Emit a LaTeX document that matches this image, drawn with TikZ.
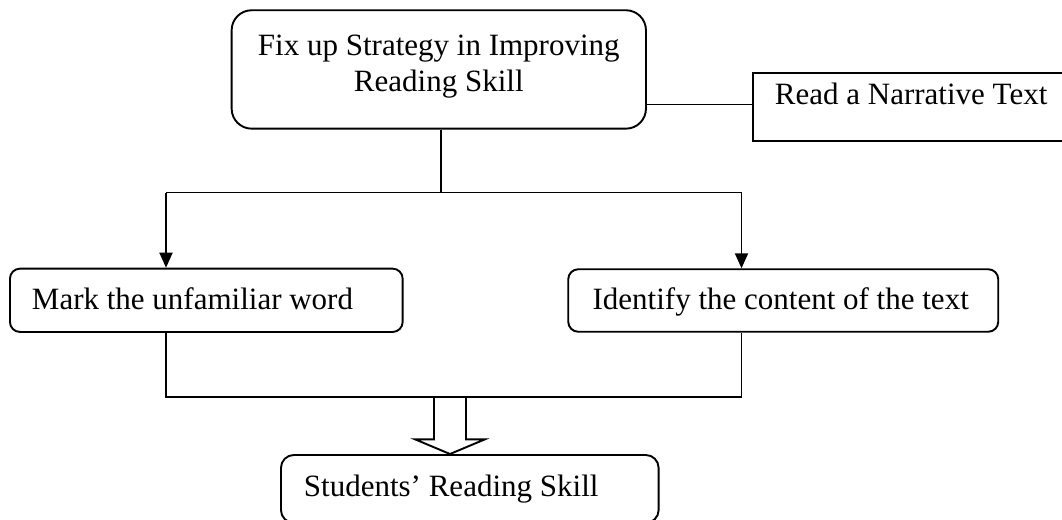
\documentclass[tikz,border=0pt]{standalone}
\usepackage{fontspec}
\setmainfont{Liberation Serif}
\usetikzlibrary{arrows.meta,calc}
\begin{document}
\begin{tikzpicture}[x=1pt,y=-1pt,
  every node/.style={font=\fontsize{31}{35.5}\selectfont},
  lw/.style={line width=1.9pt},
  box/.style={draw,lw,rounded corners=10pt,anchor=north west,
    text height=21pt,inner xsep=0pt,inner ysep=0pt},
  conn/.style={lw},
  arr/.style={lw,-{Triangle[width=13pt,length=15pt]}}
]
\useasboundingbox (0,0) rectangle (1062,519);
\clip (0,0) rectangle (1062,519);

\node[box,rounded corners=20pt,align=flush center,text height=21pt,text depth=48pt,
  text width=414.3pt,minimum height=118.4pt] (top) at (230.7,9.3)
  {Fix up Strategy in Improving\\Reading Skill};

\node[box,rounded corners=0pt,text depth=26.7pt,minimum height=67.7pt]
  (read) at (752.3,72.3)
  {\makebox[330pt][l]{\hspace*{21.7pt}Read a Narrative Text}};

\node[box,text depth=3.1pt,minimum height=63.3pt] (mark) at (9,267.7)
  {\makebox[392.7pt][l]{\hspace*{22pt}Mark the unfamiliar word}};

\node[box,text depth=3.1pt,minimum height=62.5pt] (ident) at (567.3,268.3)
  {\makebox[430pt][l]{\hspace*{24.4pt}Identify the content of the text}};

\node[box,rounded corners=13pt,text depth=6pt,minimum height=68pt]
  (stud) at (280,454)
  {\makebox[377.7pt][l]{\hspace*{23pt}Students’ Reading Skill}};

\coordinate (jc) at (440.7,192.5);
\coordinate (jl) at (166,192.5);
\coordinate (jr) at (741.5,192.5);
\draw[conn] (top.south -| jc) -- (jc);
\draw[conn] (jl) -- (jr);
\draw[arr] (jl) -- (jl |- mark.north);
\draw[arr] (jr) -- (jr |- ident.north);

\coordinate (rc) at (645,104.5);
\draw[conn] (top.east |- rc) -- (read.west |- rc);

\coordinate (bl) at (166,397);
\coordinate (br) at (741.5,397);
\draw[conn] (mark.south -| bl) -- (bl) -- (br) -- (ident.south -| br);

\coordinate (hm) at (450,397);
\draw[conn] ($(hm)+(-16,0)$) -- ++(0,42.3) -- ++(-19,0) -- (hm |- stud.north)
  -- ++(35,-14.7) -- ++(-19,0) -- ++(0,-42.3);
\end{tikzpicture}
\end{document}
